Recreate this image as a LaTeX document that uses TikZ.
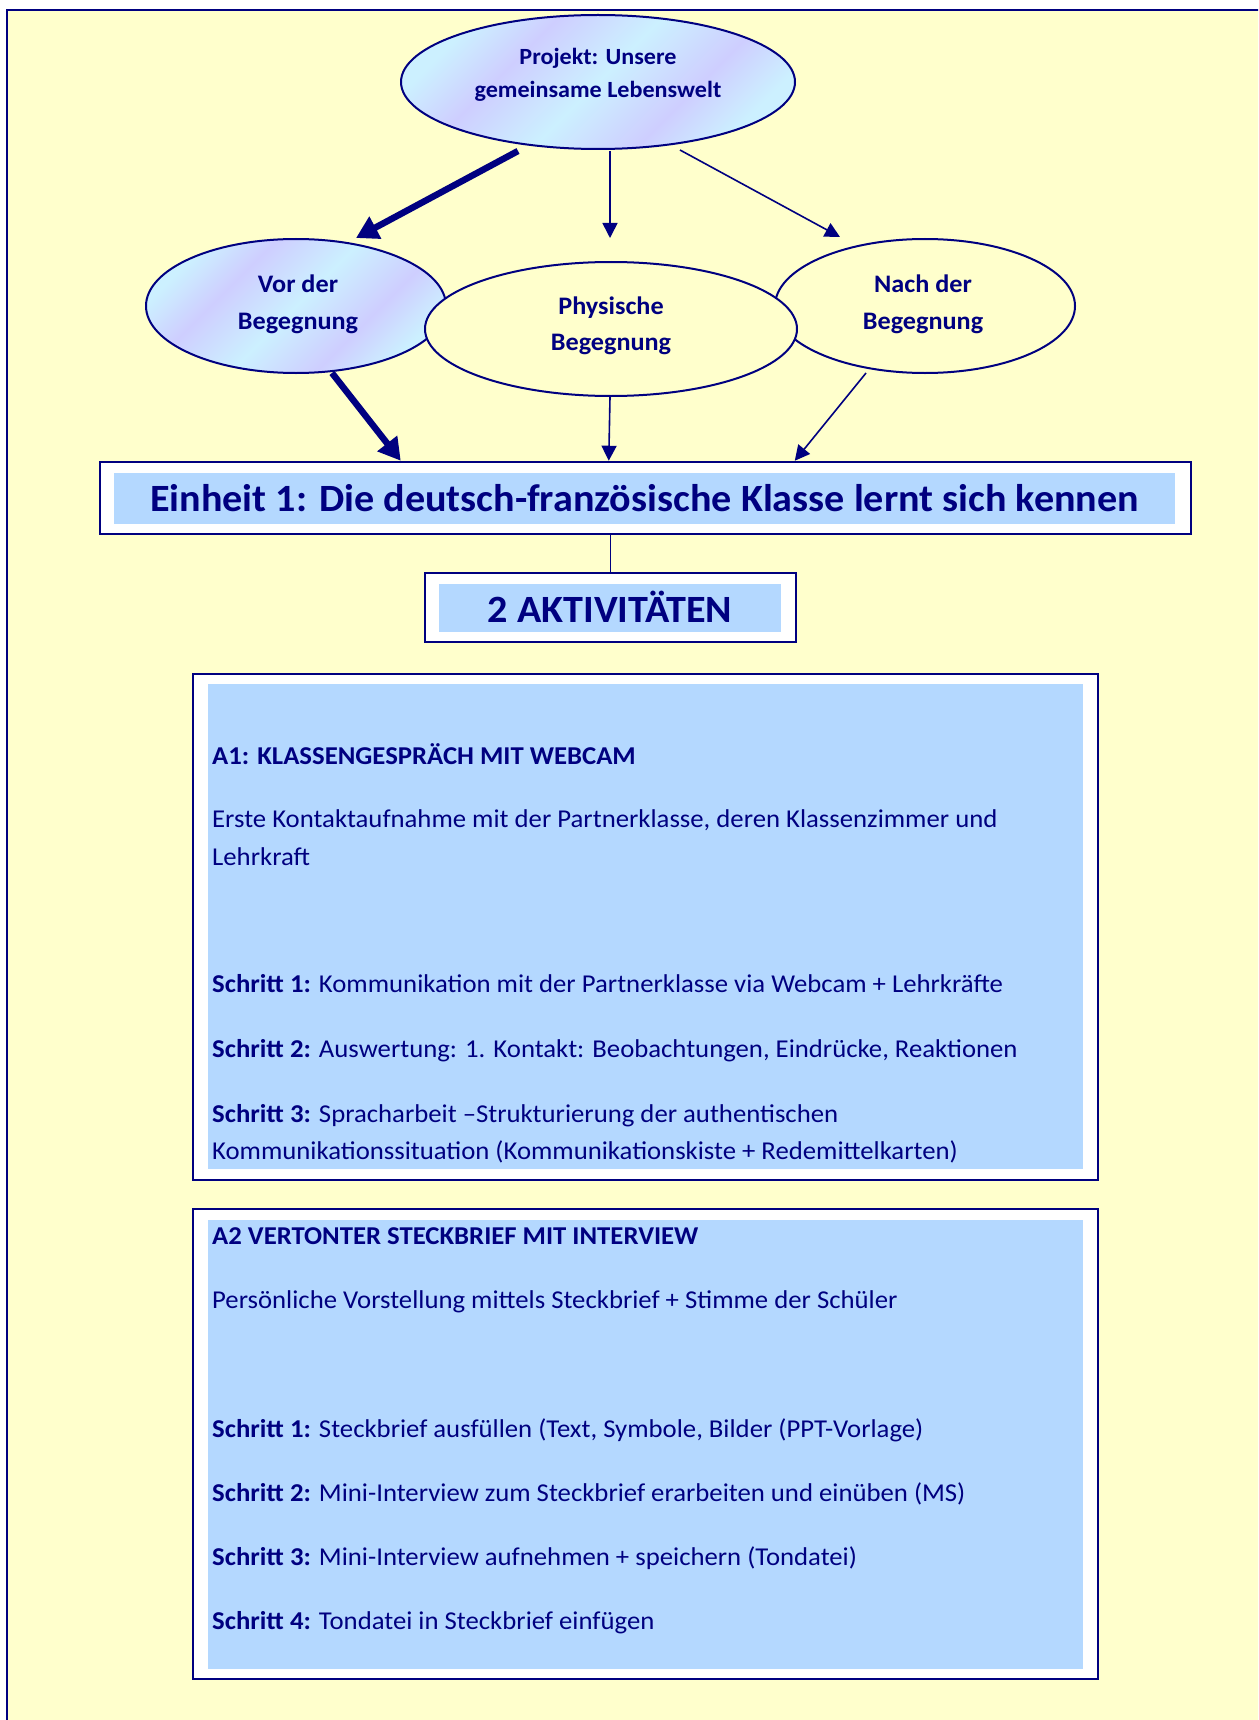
\documentclass[tikz,border=0pt]{standalone}
\usepackage{fontspec}
\setmainfont{Carlito}[FakeStretch=1.04]
\usetikzlibrary{shapes.geometric,arrows.meta,calc}
\definecolor{bg}{RGB}{255,255,204}
\definecolor{navy}{RGB}{0,0,128}
\definecolor{lblue}{RGB}{180,216,255}
\definecolor{lav}{RGB}{206,206,255}
\definecolor{cy}{RGB}{204,240,255}
\pgfdeclareverticalshading{bands}{100bp}{color(0bp)=(cy); color(25bp)=(cy); color(36bp)=(lav); color(50bp)=(cy); color(64bp)=(lav); color(75bp)=(cy); color(100bp)=(cy)}
\begin{document}
\begin{tikzpicture}[x=1pt,y=-1pt,
  ell/.style={ellipse, draw=navy, line width=2pt, inner sep=0pt},
  shadedell/.style={ell, shade, shading=bands, shading angle=45},
  plainell/.style={ell, fill=bg},
  thickarr/.style={draw=navy, line width=6.5pt, -{Triangle[length=22pt,width=24pt]}},
  thinarr/.style={draw=navy, line width=1.6pt, -{Triangle[length=15pt,width=15pt]}},
  conn/.style={draw=navy, line width=1.6pt},
  boxouter/.style={rectangle, draw=navy, line width=2.5pt, fill=white, inner sep=0pt},
  boxinner/.style={rectangle, fill=lblue, inner sep=0pt},
  elltext/.style={text=navy, inner sep=0pt, anchor=base, font=\bfseries\fontsize{25.2}{30}\selectfont},
  projtext/.style={elltext, font=\bfseries\fontsize{23.2}{28}\selectfont},
  headtext/.style={text=navy, inner sep=0pt, anchor=base, font=\bfseries\fontsize{38.6}{46}\selectfont},
  body/.style={text=navy, inner sep=0pt, anchor=base west, font=\fontsize{25.7}{30}\selectfont},
  bodyb/.style={body, font=\bfseries\fontsize{25.7}{30}\selectfont}
]
\fill[white] (0,0) rectangle (1258,1720);
\clip (0,0) rectangle (1258,1720);
\draw[navy, line width=2.5pt, fill=bg] (7,10) rectangle (1300,1760);

% ellipses
\node[shadedell, minimum width=394pt, minimum height=134pt] (proj) at (598,82) {};
\node[projtext] (projt1) at (598,65) {Projekt: Unsere};
\node[projtext] (projt2) at (598,98) {gemeinsame Lebenswelt};

\node[shadedell, minimum width=300pt, minimum height=134pt] (vor) at (296,306) {};
\node[plainell, minimum width=300pt, minimum height=134pt] (nach) at (925,306) {};
\node[plainell, minimum width=372pt, minimum height=134pt] (phys) at (611,329) {};

\node[elltext] (vort1) at (298,292) {Vor der};
\node[elltext] (vort2) at (298,329) {Begegnung};
\node[elltext] (physt1) at (611,314) {Physische};
\node[elltext] (physt2) at (611,350) {Begegnung};
\node[elltext] (nacht1) at (923,292) {Nach der};
\node[elltext] (nacht2) at (923,329) {Begegnung};

% Einheit box
\node[boxouter, minimum width=1091pt, minimum height=72pt] (einheit) at (645.5,498) {};
\node[boxinner, minimum width=1061pt, minimum height=51pt] (einheitin) at (644.5,498.5) {};
\node[headtext] (einheitt) at (644.5,511) {Einheit 1: Die deutsch-französische Klasse lernt sich kennen};

% 2 Aktivitaeten box
\node[boxouter, minimum width=371pt, minimum height=69pt] (akt) at (610.5,607.5) {};
\node[boxinner, minimum width=342pt, minimum height=48pt] (aktin) at (610,608) {};
\node[headtext] (aktt) at (610,622) {2 AKTIVITÄTEN};

% arrows
\draw[thickarr] ($(proj.center)+(-80,69)$) -- ($(vor.center)+(60,-68)$);
\draw[thinarr] ($(proj.center)+(12,69)$) -- ($(phys.center)+(-1,-91)$);
\draw[thinarr] ($(proj.center)+(82,68)$) -- ($(nach.center)+(-85,-69)$);
\draw[thickarr] ($(vor.center)+(36,67)$) -- ($(einheit.north west)+(302,0)$);
\draw[thinarr] ($(phys.center)+(-1,68)$) -- ($(einheit.north west)+(510,0)$);
\draw[thinarr] ($(nach.center)+(-59,67)$) -- ($(einheit.north west)+(696,0)$);
\draw[conn] (einheit.south -| akt.north) -- (akt.north);

% A1 box
\node[boxouter, minimum width=905pt, minimum height=506pt] (a1) at (645.5,927) {};
\node[boxinner, minimum width=875pt, minimum height=485pt] (a1in) at (645.5,926.5) {};
\node[bodyb] (a1t) at (212,764) {A1: KLASSENGESPRÄCH MIT WEBCAM};
\node[body] (a1d1) at (212,827) {Erste Kontaktaufnahme mit der Partnerklasse, deren Klassenzimmer und};
\node[body] (a1d2) at (212,865) {Lehrkraft};
\node[body] (a1s1) at (212,992) {\textbf{Schritt 1:} Kommunikation mit der Partnerklasse via Webcam + Lehrkräfte};
\node[body] (a1s2) at (212,1057) {\textbf{Schritt 2:} Auswertung: 1. Kontakt: Beobachtungen, Eindrücke, Reaktionen};
\node[body] (a1s3) at (212,1122) {\textbf{Schritt 3:} Spracharbeit –Strukturierung der authentischen};
\node[body] (a1s3b) at (212,1159) {Kommunikationssituation (Kommunikationskiste + Redemittelkarten)};

% A2 box
\node[boxouter, minimum width=905pt, minimum height=470pt] (a2) at (645.5,1444) {};
\node[boxinner, minimum width=875pt, minimum height=449pt] (a2in) at (645.5,1444.5) {};
\node[bodyb] (a2t) at (212,1244) {A2 VERTONTER STECKBRIEF MIT INTERVIEW};
\node[body] (a2d) at (212,1308) {Persönliche Vorstellung mittels Steckbrief + Stimme der Schüler};
\node[body] (a2s1) at (212,1437) {\textbf{Schritt 1:} Steckbrief ausfüllen (Text, Symbole, Bilder (PPT-Vorlage)};
\node[body] (a2s2) at (212,1501) {\textbf{Schritt 2:} Mini-Interview zum Steckbrief erarbeiten und einüben (MS)};
\node[body] (a2s3) at (212,1565) {\textbf{Schritt 3:} Mini-Interview aufnehmen + speichern (Tondatei)};
\node[body] (a2s4) at (212,1629) {\textbf{Schritt 4:} Tondatei in Steckbrief einfügen};
\end{tikzpicture}
\end{document}
